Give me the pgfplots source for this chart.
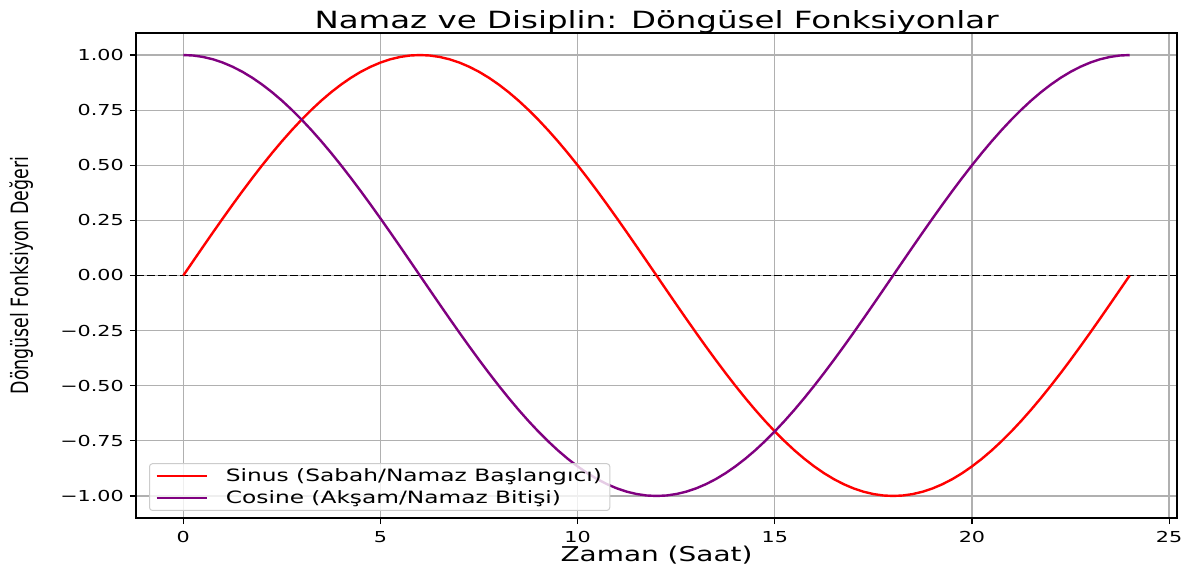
\documentclass[border=0pt]{standalone}
\usepackage{pgfplots}
\pgfplotsset{compat=1.18}
\usepackage{pgfplotstable}
\usepackage{fontspec}
\setmainfont{DejaVu Sans}[FakeStretch=1.37]
\newfontfamily\plainfont{DejaVu Sans}
\definecolor{mplpurple}{HTML}{800080}
\definecolor{gridgray}{HTML}{B0B0B0}
\definecolor{legframe}{HTML}{CCCCCC}

\pgfplotstableread{
t s c
0 0 1
0.25 0.0654 0.9979
0.5 0.1305 0.9914
0.75 0.1951 0.9808
1 0.2588 0.9659
1.25 0.3214 0.9469
1.5 0.3827 0.9239
1.75 0.4423 0.8969
2 0.5 0.8660
2.25 0.5556 0.8315
2.5 0.6088 0.7934
2.75 0.6593 0.7518
3 0.7071 0.7071
3.25 0.7518 0.6593
3.5 0.7934 0.6088
3.75 0.8315 0.5556
4 0.8660 0.5
4.25 0.8969 0.4423
4.5 0.9239 0.3827
4.75 0.9469 0.3214
5 0.9659 0.2588
5.25 0.9808 0.1951
5.5 0.9914 0.1305
5.75 0.9979 0.0654
6 1 0
6.25 0.9979 -0.0654
6.5 0.9914 -0.1305
6.75 0.9808 -0.1951
7 0.9659 -0.2588
7.25 0.9469 -0.3214
7.5 0.9239 -0.3827
7.75 0.8969 -0.4423
8 0.8660 -0.5
8.25 0.8315 -0.5556
8.5 0.7934 -0.6088
8.75 0.7518 -0.6593
9 0.7071 -0.7071
9.25 0.6593 -0.7518
9.5 0.6088 -0.7934
9.75 0.5556 -0.8315
10 0.5 -0.8660
10.25 0.4423 -0.8969
10.5 0.3827 -0.9239
10.75 0.3214 -0.9469
11 0.2588 -0.9659
11.25 0.1951 -0.9808
11.5 0.1305 -0.9914
11.75 0.0654 -0.9979
12 0 -1
12.25 -0.0654 -0.9979
12.5 -0.1305 -0.9914
12.75 -0.1951 -0.9808
13 -0.2588 -0.9659
13.25 -0.3214 -0.9469
13.5 -0.3827 -0.9239
13.75 -0.4423 -0.8969
14 -0.5 -0.8660
14.25 -0.5556 -0.8315
14.5 -0.6088 -0.7934
14.75 -0.6593 -0.7518
15 -0.7071 -0.7071
15.25 -0.7518 -0.6593
15.5 -0.7934 -0.6088
15.75 -0.8315 -0.5556
16 -0.8660 -0.5
16.25 -0.8969 -0.4423
16.5 -0.9239 -0.3827
16.75 -0.9469 -0.3214
17 -0.9659 -0.2588
17.25 -0.9808 -0.1951
17.5 -0.9914 -0.1305
17.75 -0.9979 -0.0654
18 -1 0
18.25 -0.9979 0.0654
18.5 -0.9914 0.1305
18.75 -0.9808 0.1951
19 -0.9659 0.2588
19.25 -0.9469 0.3214
19.5 -0.9239 0.3827
19.75 -0.8969 0.4423
20 -0.8660 0.5
20.25 -0.8315 0.5556
20.5 -0.7934 0.6088
20.75 -0.7518 0.6593
21 -0.7071 0.7071
21.25 -0.6593 0.7518
21.5 -0.6088 0.7934
21.75 -0.5556 0.8315
22 -0.5 0.8660
22.25 -0.4423 0.8969
22.5 -0.3827 0.9239
22.75 -0.3214 0.9469
23 -0.2588 0.9659
23.25 -0.1951 0.9808
23.5 -0.1305 0.9914
23.75 -0.0654 0.9979
24 0 1
}\datatable

\begin{document}
\begin{tikzpicture}
\useasboundingbox (-136bp,-56bp) rectangle (1050bp,518bp);
\begin{axis}[
  scale only axis,
  width=1041bp, height=485bp,
  xmin=-1.2, xmax=25.2, ymin=-1.1, ymax=1.1,
  xtick={0,5,10,15,20,25},
  xticklabels={0,5,10,15,20,25},
  ytick={-1,-0.75,-0.5,-0.25,0,0.25,0.5,0.75,1},
  yticklabels={−1.00,−0.75,−0.50,−0.25,0.00,0.25,0.50,0.75,1.00},
  tick align=outside, tick pos=left,
  major tick length=6bp,
  tick style={black, line width=1.2bp},
  axis line style={black, line width=1.2bp},
  grid=major,
  grid style={gridgray, line width=1.3bp},
  ticklabel style={font=\fontsize{15.1bp}{18bp}\selectfont},
  xticklabel style={anchor=north, inner sep=0pt, yshift=-7bp},
  yticklabel style={anchor=east, inner sep=0pt, xshift=-6bp},
  title={Namaz ve Disiplin: Döngüsel Fonksiyonlar},
  title style={font=\fontsize{23.7bp}{28bp}\selectfont, at={(axis description cs:0.5,1)}, anchor=base, yshift=-1bp},
  xlabel={Zaman (Saat)},
  xlabel style={font=\fontsize{20.4bp}{24bp}\selectfont, at={(axis description cs:0.5,0)}, anchor=base, yshift=-43bp},
  ylabel={\scalebox{1}[1.37]{\plainfont\fontsize{17.4bp}{20bp}\selectfont Döngüsel Fonksiyon Değeri}},
  ylabel style={at={(axis description cs:-0.1095,0.5)}, anchor=center, rotate=0},
  legend cell align=left,
  legend image code/.code={\draw[#1] (0bp,0bp) -- (50bp,0bp); \path (66bp,0bp);},
  legend style={at={(axis description cs:0.0125,0.0145)}, anchor=south west,
    draw=legframe, line width=1bp, rounded corners=3bp, fill=white, fill opacity=0.8, text opacity=1,
    font=\fontsize{17bp}{20bp}\selectfont, inner xsep=6bp, inner ysep=3bp,
    row sep=4bp},
]
\addplot[black, line width=1.1bp, dash pattern=on 7.7bp off 3.3bp, forget plot] coordinates {(-1.2,0) (25.2,0)};
\addplot[red, line width=2.4bp] table[x=t, y=s] {\datatable};
\addlegendentry{Sinus (Sabah/Namaz Başlangıcı)}
\addplot[mplpurple, line width=2.4bp] table[x=t, y=c] {\datatable};
\addlegendentry{Cosine (Akşam/Namaz Bitişi)}
\end{axis}
\end{tikzpicture}
\end{document}
